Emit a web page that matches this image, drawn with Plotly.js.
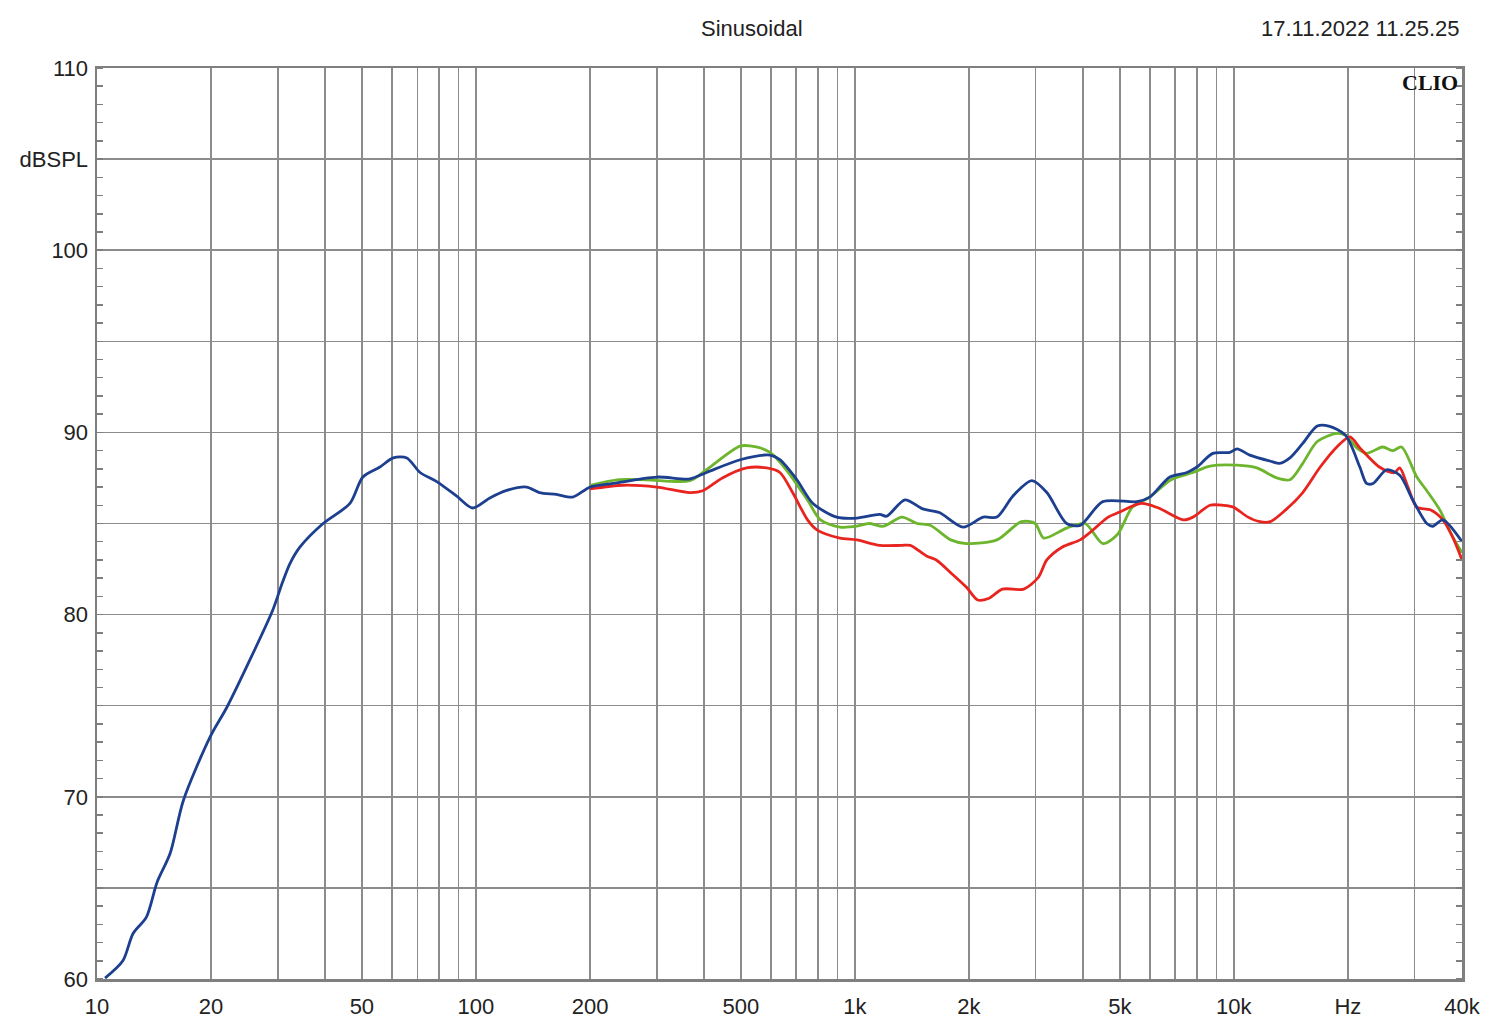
<!DOCTYPE html>
<html>
<head>
<meta charset="utf-8">
<script src="https://cdn.plot.ly/plotly-3.0.1.min.js"></script>
<style>html,body{margin:0;padding:0;background:#fff;}#chart{width:1500px;height:1032px;}</style>
</head>
<body>
<div id="chart"></div>
<script>
// Blue curve (full range)
const blueFreq = [10.5, 11.7, 12.45, 13.5, 14.4, 15.6, 16.9, 19.9, 22.0, 25.3, 29.1, 30.9, 32.3, 34.3, 39.5, 46.5, 50.3, 55.8, 60.5, 65.7, 71.2, 78.8, 89, 98, 108.8, 120, 136, 147, 163, 180, 200, 230, 300, 367, 406, 498, 597, 634, 703, 775, 896, 1012, 1163, 1213, 1355, 1510, 1670, 1930, 2180, 2370, 2610, 2930, 3210, 3620, 3930, 4510, 5550, 6000, 6780, 7520, 7990, 8800, 9760, 10200, 11020, 12600, 13200, 14060, 15200, 16600, 17800, 19700, 21500, 22400, 23300, 25300, 27400, 29650, 32300, 33500, 35600, 40000];
const blueDb   = [60.05, 61.0, 62.5, 63.4, 65.3, 66.9, 69.8, 73.3, 74.9, 77.5, 80.25, 81.8, 82.8, 83.7, 85.0, 86.1, 87.55, 88.1, 88.6, 88.6, 87.8, 87.3, 86.5, 85.85, 86.4, 86.8, 87.0, 86.7, 86.6, 86.45, 87.0, 87.2, 87.55, 87.45, 87.8, 88.5, 88.75, 88.5, 87.4, 86.1, 85.35, 85.3, 85.5, 85.4, 86.3, 85.8, 85.6, 84.8, 85.35, 85.35, 86.5, 87.35, 86.7, 85.0, 84.9, 86.2, 86.2, 86.45, 87.55, 87.8, 88.1, 88.85, 88.9, 89.1, 88.75, 88.4, 88.3, 88.6, 89.4, 90.35, 90.35, 89.85, 88.1, 87.2, 87.2, 87.95, 87.65, 86.3, 85.0, 84.85, 85.2, 84.0];

// Green curve
const greenFreq = [200, 236, 282, 367, 406, 498, 549, 597, 659, 749, 811, 913, 1012, 1090, 1190, 1330, 1460, 1580, 1790, 1970, 2370, 2750, 2990, 3150, 3620, 4050, 4510, 4930, 5400, 6000, 6830, 7800, 8650, 10190, 11500, 12980, 14060, 15200, 16600, 18700, 19700, 21100, 22400, 24700, 26300, 27700, 30400, 32300, 34950, 37840, 40000];
const greenDb   = [87.1, 87.4, 87.4, 87.35, 87.95, 89.25, 89.2, 88.9, 87.95, 86.3, 85.2, 84.8, 84.85, 85.0, 84.85, 85.35, 85.0, 84.9, 84.1, 83.9, 84.1, 85.1, 85.0, 84.2, 84.75, 85.0, 83.9, 84.4, 85.9, 86.45, 87.4, 87.8, 88.15, 88.2, 88.05, 87.5, 87.4, 88.3, 89.5, 89.95, 89.85, 89.15, 88.85, 89.2, 89.0, 89.2, 87.55, 86.8, 85.75, 84.25, 83.4];

// Red curve
const redFreq = [200, 245, 300, 367, 397, 447, 518, 585, 634, 685, 750, 794, 913, 1012, 1163, 1330, 1400, 1550, 1640, 1790, 1970, 2110, 2260, 2450, 2790, 3050, 3210, 3520, 3930, 4170, 4660, 4960, 5690, 6330, 7360, 7800, 8650, 9380, 9970, 10900, 11710, 12470, 13700, 15200, 16900, 18700, 20250, 21500, 24200, 26000, 26600, 27400, 28800, 30400, 33000, 35600, 37800, 40000];
const redDb   = [86.9, 87.1, 87.0, 86.7, 86.8, 87.5, 88.05, 88.05, 87.8, 86.7, 85.2, 84.65, 84.2, 84.1, 83.8, 83.8, 83.8, 83.2, 83.0, 82.3, 81.5, 80.8, 80.9, 81.4, 81.4, 82.05, 83.0, 83.7, 84.1, 84.5, 85.35, 85.6, 86.1, 85.85, 85.2, 85.35, 86.0, 86.0, 85.9, 85.35, 85.1, 85.1, 85.75, 86.7, 88.1, 89.2, 89.75, 89.15, 88.1, 87.8, 87.8, 88.05, 87.0, 85.9, 85.75, 85.2, 84.25, 83.0];

// Axis ticks
const xGridVals = [10,20,30,40,50,60,70,80,90,100,200,300,400,500,600,700,800,900,1000,2000,3000,4000,5000,6000,7000,8000,9000,10000,20000,30000,40000];
const xLabelMap = {10:'10',20:'20',50:'50',100:'100',200:'200',500:'500',1000:'1k',2000:'2k',5000:'5k',10000:'10k',20000:'Hz',40000:'40k'};
const yGridVals = [60,65,70,75,80,85,90,95,100,105,110];
const yLabelMap = {60:'60',70:'70',80:'80',90:'90',100:'100',105:'dBSPL',110:'110'};

const xText = xGridVals.map(v => xLabelMap[v] || '');
const yText = yGridVals.map(v => yLabelMap[v] || '');

const lineW = 2.8;
const traces = [
  {x: greenFreq, y: greenDb, type:'scatter', mode:'lines', line:{color:'#6cb52d', width:lineW, shape:'spline', smoothing:0.8}, hoverinfo:'skip'},
  {x: redFreq, y: redDb, type:'scatter', mode:'lines', line:{color:'#e8241f', width:lineW, shape:'spline', smoothing:0.8}, hoverinfo:'skip'},
  {x: blueFreq, y: blueDb, type:'scatter', mode:'lines', line:{color:'#1d3f8f', width:lineW, shape:'spline', smoothing:0.8}, hoverinfo:'skip'}
];

const font = {family:'Liberation Sans, Arial, sans-serif', size:22, color:'#222'};
const layout = {
  width:1500, height:1032,
  margin:{l:97, r:38, t:68, b:53},
  paper_bgcolor:'#fff', plot_bgcolor:'#fff',
  showlegend:false,
  font: font,
  xaxis:{
    type:'log', range:[1, Math.log10(40000)],
    tickmode:'array', tickvals:xGridVals, ticktext:xText,
    showgrid:true, gridcolor:'#8c8c8c', gridwidth:1.5,
    ticks:'', showline:true, linecolor:'#7f7f7f', linewidth:2.5, mirror:true,
    zeroline:false, tickfont:font, ticklabelstandoff:6
  },
  yaxis:{
    range:[60,110],
    tickmode:'array', tickvals:yGridVals, ticktext:yText,
    showgrid:true, gridcolor:'#8c8c8c', gridwidth:1.5,
    ticks:'', showline:true, linecolor:'#7f7f7f', linewidth:2.5, mirror:'ticks',
    zeroline:false, tickfont:font, ticklabelstandoff:2,
    minor:{dtick:1, ticks:'inside', ticklen:6, tickcolor:'#7f7f7f', tickwidth:1.5, showgrid:false}
  },
  annotations:[
    {text:'Sinusoidal', xref:'paper', yref:'paper', x:(752-97)/1365, y:1, yanchor:'middle', yshift:40, showarrow:false, font:font},
    {text:'17.11.2022 11.25.25', xref:'paper', yref:'paper', x:1.0, xanchor:'right', y:1, yanchor:'middle', yshift:40, showarrow:false, font:font},
    {text:'<b>CLIO</b>', xref:'paper', yref:'paper', x:1.0, xanchor:'right', xshift:-2, y:1, yanchor:'top', yshift:0, showarrow:false, font:{family:'Liberation Serif, Times New Roman, serif', size:22, color:'#111'}}
  ]
};

Plotly.newPlot('chart', traces, layout, {displayModeBar:false, staticPlot:true});
</script>
</body>
</html>
